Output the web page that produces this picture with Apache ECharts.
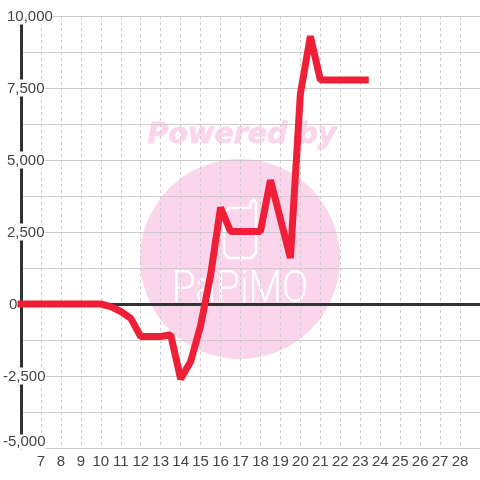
<!DOCTYPE html>
<html>
<head>
<meta charset="utf-8">
<title>chart</title>
<style>
    html, body { margin: 0; padding: 0; background: #fff; }
    #chart { width: 480px; height: 480px; }
</style>
<script src="https://cdn.jsdelivr.net/npm/echarts@6/dist/echarts.min.js"></script>
</head>
<body>
<div id="chart"></div>
<script>
// values
const hours = [6, 10, 10.5, 11, 11.5, 12, 13, 13.5, 14, 14.5, 15, 15.5, 16, 16.5, 18, 18.5, 19.5, 20, 20.5, 21, 23.25];
const values = [0, 0, -90, -260, -500, -1130, -1130, -1070, -2600, -2000, -750, 1000, 3350, 2520, 2520, 4300, 1600, 7300, 9300, 7780, 7780];
const hourLabels = [7, 8, 9, 10, 11, 12, 13, 14, 15, 16, 17, 18, 19, 20, 21, 22, 23, 24, 25, 26, 27, 28];
const valueLabels = [-5000, -2500, 0, 2500, 5000, 7500, 10000];

const gridColor = '#cccccc';
const darkLine = '#333333';
const pink = '#fbd5ec';

function yLabel(v) {
    if (valueLabels.indexOf(v) < 0) {
        return '';
    }
    let text = v.toLocaleString('en-US');
    if (v === -5000) {
        return '{low|' + text + '}';
    }
    if (v < 0) {
        return '{neg|' + text + '}';
    }
    return v === 0 ? '{zero|' + text + '}' : '{pos|' + text + '}';
}

function labelStyle(padding) {
    return {
        fontSize: 15,
        lineHeight: 12,
        color: '#444444',
        backgroundColor: '#ffffff',
        padding: padding
    };
}

let chart = echarts.init(document.getElementById('chart'));
chart.setOption({
    animation: false,
    backgroundColor: '#ffffff',
    textStyle: { fontFamily: '"Liberation Sans"' },
    grid: { left: 20, right: 0, top: 16, bottom: 32, containLabel: false },
    // watermark sits behind the grid lines
    graphic: [
        {
            type: 'circle', z: -1, silent: true,
            shape: { cx: 240, cy: 259, r: 100 },
            style: { fill: pink }
        },
        {
            type: 'polygon', z: -1, silent: true,
            shape: {
                points: [[224, 213], [224, 253], [229, 258], [251, 258], [256, 253], [256, 203], [254, 200], [251, 202], [250, 208], [229, 208]]
            },
            style: { fill: 'none', stroke: '#ffffff', lineWidth: 2.5, lineJoin: 'round' }
        },
        {
            type: 'text', z: -1, silent: true, x: 240, y: 291,
            scaleX: 1.29, scaleY: 1.45,
            style: {
                text: 'PaPiMO', align: 'center', verticalAlign: 'middle',
                font: '300 30px "Roboto"', fill: '#ffffff'
            }
        },
        {
            type: 'text', z: -1, silent: true, x: 242, y: 136,
            style: {
                text: 'Powered by', align: 'center', verticalAlign: 'middle',
                font: 'italic bold 28.5px "DejaVu Sans"', fill: pink, stroke: pink, lineWidth: 0.8
            }
        }
    ],
    xAxis: [
        {
            type: 'value',
            min: 6,
            max: 29,
            interval: 1,
            position: 'bottom',
            axisLine: { show: false, onZero: false },
            axisTick: { show: false },
            axisLabel: {
                fontSize: 15,
                color: '#444444',
                margin: 6,
                showMinLabel: false,
                showMaxLabel: false,
                formatter: function (v) {
                    return hourLabels.indexOf(v) >= 0 ? String(v) : '';
                }
            },
            splitLine: { lineStyle: { color: gridColor, type: [3, 3], width: 1 } }
        },
        {
            // heavy line at zero
            type: 'value',
            min: 6,
            max: 29,
            axisLine: { show: true, onZero: true, lineStyle: { color: darkLine, width: 3 } },
            axisTick: { show: false },
            axisLabel: { show: false },
            splitLine: { show: false }
        }
    ],
    yAxis: {
        type: 'value',
        min: -5000,
        max: 10000,
        interval: 1250,
        axisLine: { show: true, onZero: false, lineStyle: { color: darkLine, width: 3 } },
        axisTick: { show: false },
        axisLabel: {
            align: 'left',
            margin: 18,
            fontSize: 15,
            color: '#444444',
            verticalAlignMinLabel: 'bottom',
            formatter: yLabel,
            rich: {
                pos: labelStyle([2, 0, 0, 4]),
                neg: labelStyle([2, 0, 0, 0]),
                low: labelStyle([0, 0, 0, 0]),
                zero: labelStyle([2, 0, 0, 6])
            }
        },
        splitLine: { lineStyle: { color: gridColor, width: 1 } }
    },
    series: [
        {
            type: 'line',
            xAxisIndex: 0,
            data: hours.map(function (h, i) {
                return [h, values[i]];
            }),
            showSymbol: false,
            clip: false,
            lineStyle: { color: '#ee1f36', width: 7, join: 'bevel', cap: 'square' }
        }
    ]
});
</script>
</body>
</html>
